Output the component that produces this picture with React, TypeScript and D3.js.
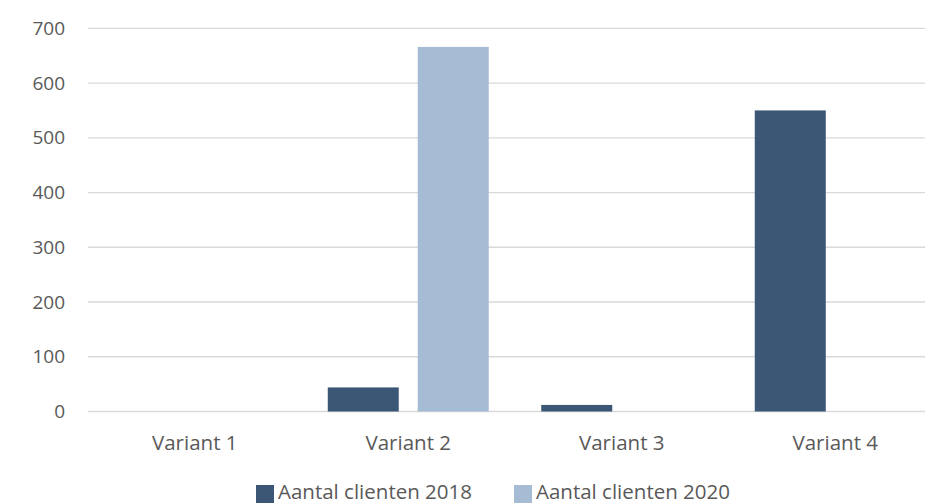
import React, { useRef, useEffect } from 'react';
import * as d3 from 'd3';

const categories = ['Variant 1', 'Variant 2', 'Variant 3', 'Variant 4'];
const seriesNames = ['Aantal clienten 2018', 'Aantal clienten 2020'];
const values2018 = [0, 44, 12, 550];
const values2020 = [0, 666, 0, 0];
const yTicks = [0, 100, 200, 300, 400, 500, 600, 700];
const colors = ['#3B5775', '#A6BBD4'];

export default function App(): JSX.Element {
  const svgRef = useRef<SVGSVGElement>(null);

  useEffect(() => {
    const el = svgRef.current;
    if (el == null) return;
    const svg = d3.select(el);
    svg.selectAll('*').remove();

    const font = "'Open Sans', sans-serif";
    const left = 88;
    const right = 942; // plot runs past the visible edge
    const y0 = 411.5;
    const yTop = 28.3;

    const x = d3
      .scaleBand()
      .domain(categories)
      .range([left, right])
      .paddingInner(0.246)
      .paddingOuter(0.123);
    const x1 = d3
      .scaleBand()
      .domain(seriesNames)
      .range([0, x.bandwidth()])
      .paddingInner(0.211);
    const y = d3.scaleLinear().domain([0, 700]).range([y0, yTop]);

    // gridlines
    svg
      .append('g')
      .selectAll('line')
      .data(yTicks)
      .join('line')
      .attr('x1', left)
      .attr('x2', right)
      .attr('y1', (d) => y(d))
      .attr('y2', (d) => y(d))
      .attr('stroke', '#D9D9D9')
      .attr('stroke-width', 1.3);

    // y labels
    svg
      .append('g')
      .selectAll('text')
      .data(yTicks)
      .join('text')
      .attr('x', 65)
      .attr('y', (d) => y(d))
      .attr('dy', '0.35em')
      .attr('text-anchor', 'end')
      .attr('font-family', font)
      .attr('font-size', 19)
      .attr('fill', '#595959')
      .text((d) => d);

    // bars
    const rows = categories.map((c, i) => ({ cat: c, vals: [values2018[i], values2020[i]] }));
    const groups = svg
      .append('g')
      .selectAll('g')
      .data(rows)
      .join('g')
      .attr('transform', (d) => `translate(${x(d.cat)},0)`);
    groups
      .selectAll('rect')
      .data((d) => d.vals.map((v, j) => ({ v, s: seriesNames[j], j })))
      .join('rect')
      .attr('x', (d) => x1(d.s) as number)
      .attr('width', x1.bandwidth())
      .attr('y', (d) => y(d.v))
      .attr('height', (d) => y0 - y(d.v))
      .attr('fill', (d) => colors[d.j]);

    // x labels
    svg
      .append('g')
      .selectAll('text')
      .data(categories)
      .join('text')
      .attr('x', (d) => (x(d) as number) + x.bandwidth() / 2)
      .attr('y', 450)
      .attr('text-anchor', 'middle')
      .attr('font-family', font)
      .attr('font-size', 20.5)
      .attr('fill', '#595959')
      .text((d) => d);

    // legend
    const legendX = [256, 514];
    const lg = svg
      .append('g')
      .selectAll('g')
      .data(seriesNames)
      .join('g')
      .attr('transform', (d, i) => `translate(${legendX[i]},0)`);
    lg.append('rect')
      .attr('x', 0)
      .attr('y', 485)
      .attr('width', 18)
      .attr('height', 18)
      .attr('fill', (d, i) => colors[i]);
    lg.append('text')
      .attr('x', 22)
      .attr('y', 499)
      .attr('font-family', font)
      .attr('font-size', 20.5)
      .attr('fill', '#595959')
      .text((d) => d);
  }, []);

  return (
    <svg
      ref={svgRef}
      width={925}
      height={504}
      style={{ position: 'absolute', left: 0, top: 0, background: '#fff' }}
    />
  );
}
